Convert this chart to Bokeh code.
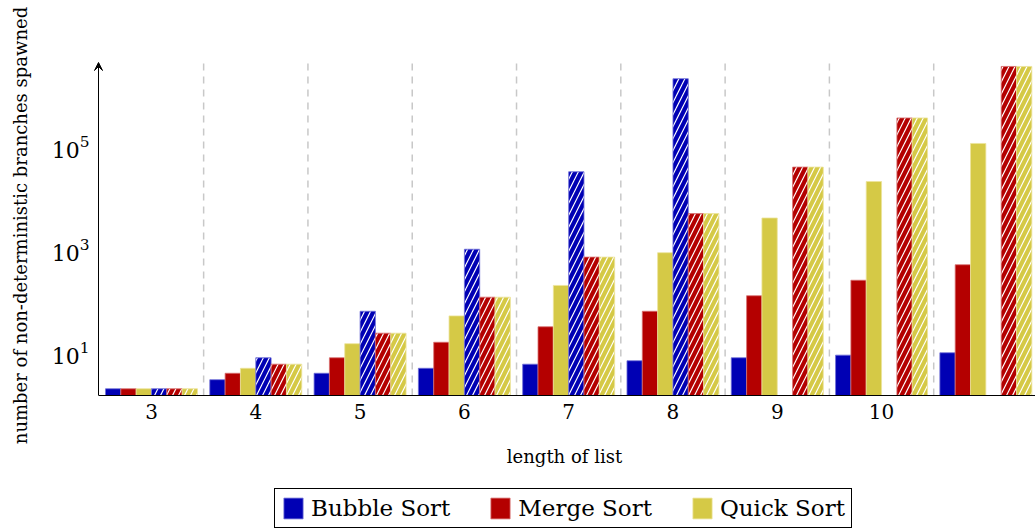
import numpy as np
from bokeh.plotting import figure
from bokeh.layouts import column
from bokeh.models import (FixedTicker, LogTickFormatter, Legend, LegendItem,
                          Arrow, VeeHead, Range1d)
from bokeh.embed import file_html
from bokeh.resources import INLINE

nan = float("nan")

# ---- data ----
groups = ["3", "4", "5", "6", "7", "8", "9", "10", ""]
bubble = [2, 3, 4, 5, 6, 7, 8, 9, 10]
merge = [2, 4, 8, 16, 32, 64, 128, 256, 512]
quick = [2, 5, 15, 52, 203, 877, 4140, 21147, 115975]
bubble_hatched = [2, 8, 64, 1024, 32768, 2097152, nan, nan, nan]
merge_hatched = [2, 6, 24, 120, 720, 5040, 40320, 362880, 3628800]
quick_hatched = [2, 6, 24, 120, 720, 5040, 40320, 362880, 3628800]
series_names = ["Bubble Sort", "Merge Sort", "Quick Sort"]
y_ticks = [10, 1000, 100000]

BLUE = "#0000B4"
RED = "#B40000"
YELLOW = "#D5C946"
COLORS = [BLUE, RED, YELLOW]
EDGE = {BLUE: "#7070d8", RED: "#d87070", YELLOW: "#ece39a"}
SERIF = "DejaVu Serif"

# axis geometry (data units)
x_axis_at = -0.508          # where the y axis line sits
x_lo, x_hi = -0.556, 8.476
y_lo, y_hi = 1.48, 5.92e6
y_arrow_tip = 4.33e6

p = figure(width=1035, height=487, y_axis_type="log",
           x_range=Range1d(x_lo, x_hi), y_range=Range1d(y_lo, y_hi),
           output_backend="svg", toolbar_location=None,
           min_border_left=93, min_border_right=0,
           min_border_top=55, min_border_bottom=92)
p.outline_line_color = None
p.background_fill_color = "white"
p.border_fill_color = "white"
p.xgrid.visible = False
p.ygrid.visible = False

idx = np.arange(len(groups), dtype=float)
w = 0.147
layers = [
    (bubble, BLUE, None, -2.5),
    (merge, RED, None, -1.5),
    (quick, YELLOW, None, -0.5),
    (bubble_hatched, BLUE, "/", 0.5),
    (merge_hatched, RED, "/", 1.5),
    (quick_hatched, YELLOW, "/", 2.5),
]
for vals, col, hatch, off in layers:
    kw = dict(x=idx + off * w, top=np.array(vals, dtype=float), bottom=1.0, width=w,
              fill_color=col, line_color=EDGE[col], line_width=0.8)
    if hatch:
        kw.update(hatch_pattern=hatch, hatch_color="white", hatch_scale=12, hatch_weight=1.2)
    p.vbar(**kw)

# dashed separators between groups
sep_x = idx[:-1] + 0.5
p.segment(x0=sep_x, y0=y_lo, x1=sep_x, y1=y_arrow_tip, line_color="#c8c8c8",
          line_dash="7 6", line_width=1.5)

# axes
p.xaxis.ticker = FixedTicker(ticks=list(range(len(groups))), minor_ticks=[])
p.xaxis.major_label_overrides = {i: g for i, g in enumerate(groups)}
p.xaxis.axis_label = "length of list"
p.xaxis.bounds = (x_axis_at, x_hi)
p.yaxis.ticker = FixedTicker(ticks=y_ticks, minor_ticks=[])
p.yaxis.formatter = LogTickFormatter()
p.yaxis.axis_label = "number of non-deterministic branches spawned"
p.yaxis.axis_line_color = None

for ax in (p.xaxis[0], p.yaxis[0]):
    ax.major_tick_out = 0
    ax.major_tick_in = 0
    ax.minor_tick_out = 0
    ax.minor_tick_in = 0
    ax.major_label_text_font = SERIF
    ax.major_label_text_color = "black"
    ax.axis_label_text_font = SERIF
    ax.axis_label_text_font_style = "normal"
    ax.axis_label_text_color = "black"

p.xaxis.axis_line_color = "black"
p.xaxis.axis_line_width = 1
p.xaxis.major_label_text_font_size = "20px"
p.xaxis.major_label_standoff = 8
p.xaxis.axis_label_text_font_size = "18px"
p.xaxis.axis_label_standoff = 24
p.yaxis.major_label_text_font_size = "22px"
p.yaxis.major_label_standoff = 4
p.yaxis.axis_label_text_font_size = "18px"
p.yaxis.axis_label_standoff = 18

# y axis line with its arrow head
p.add_layout(Arrow(end=VeeHead(size=8, fill_color="black", line_color="black", line_width=1),
                   x_start=x_axis_at, y_start=y_lo, x_end=x_axis_at, y_end=y_arrow_tip,
                   line_color="black", line_width=1))

# ---- legend strip under the chart ----
lg = figure(width=1035, height=41, x_range=Range1d(0, 1), y_range=Range1d(0, 1),
            output_backend="svg", toolbar_location=None,
            x_axis_location=None, y_axis_location=None,
            min_border_left=0, min_border_right=0, min_border_top=0, min_border_bottom=0)
lg.outline_line_color = None
lg.xgrid.visible = False
lg.ygrid.visible = False
items = []
for name, col in zip(series_names, COLORS):
    # legend-only proxy, placed outside the visible range
    r = lg.vbar(x=[-5], top=[-4], bottom=-5, width=0.1, fill_color=col,
                line_color=EDGE[col], line_width=0.8)
    items.append(LegendItem(label=name, renderers=[r]))
legend = Legend(items=items, orientation="horizontal", location=(181, 0),
                border_line_color="black", border_line_width=1, border_line_alpha=1,
                background_fill_color="white", background_fill_alpha=1,
                label_text_font=SERIF, label_text_font_size="23px", label_text_color="black",
                glyph_width=24, glyph_height=26, label_standoff=6, spacing=38,
                padding=6, margin=0)
lg.add_layout(legend, "center")

open("out.html", "w").write(file_html(column(p, lg), INLINE))
